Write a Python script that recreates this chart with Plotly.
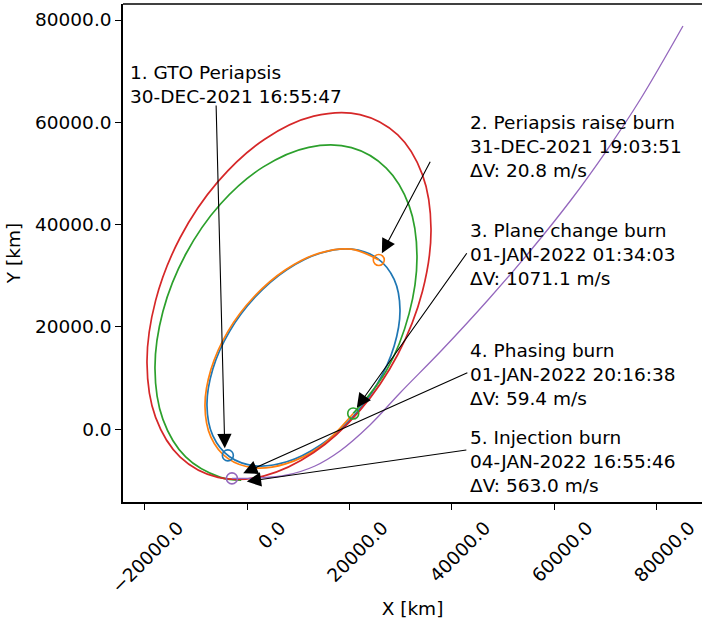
import plotly.graph_objects as go

# ---- data (km) ----
# 1. GTO (blue), full orbit
gto_x = [29840, 28700, 25420, 20410, 14250, 7710, 1550, -3460, -6740, -7880, -6740, -3460, 1550, 7710,
         14250, 20410, 25420, 28700, 29840]
gto_y = [23360, 16280, 8910, 2210, -3110, -6350, -7130, -5360, -1230, 4710, 11790, 19150, 25860, 31180,
         34420, 35200, 33420, 29300, 23360]

# 2. after periapsis raise (orange): burn 2 -> burn 3
raise_x = [25700, 20320, 14090, 7480, 1270, -3810, -7110, -8270, -7110, -3810, 1270, 7480, 14090, 20700]
raise_y = [33100, 35200, 34440, 31190, 25860, 19100, 11670, 4520, -1510, -5690, -7530, -6760, -3520, 3100]

# 3. after plane change (green): burn 3 -> burn 4
plane_x = [20700, 27160, 31620, 33160, 31620, 27160, 20360, 12000, 3130, -5240, -12040, -16490, -18040,
           -16490, -12040, -5240, -1190]
plane_y = [3100, 11430, 22610, 33830, 43720, 51070, 55060, 55120, 51290, 44040, 34220, 23040, 11830,
           1940, -5410, -9400, -9930]

# 4. after phasing burn (red), full orbit
phasing_x = [35900, 34220, 29410, 22020, 12980, 3320, -5730, -13110, -17920, -19600, -17920, -13110,
             -5730, 3320, 12980, 22020, 29410, 34220, 35900]
phasing_y = [39150, 26950, 14620, 3690, -4550, -9090, -9400, -5430, 2330, 12960, 25150, 37490,
             48410, 56660, 61200, 61510, 57540, 49780, 39150]

# 5. escape after injection (purple)
escape_x = [-3000, 2480, 7760, 13230, 18110, 23980, 29840, 38040, 47030, 55440, 63250, 70290, 76730, 85140]
escape_y = [-9600, -9520, -8930, -7170, -4240, 840, 7100, 15500, 25270, 35040, 44820, 54590, 64360, 78830]

burn_x = [-3800, 25700, 20700, -3000]
burn_y = [-5100, 33100, 3100, -9600]

labels = [
    "1. GTO Periapsis<br>30-DEC-2021 16:55:47",
    "2. Periapsis raise burn<br>31-DEC-2021 19:03:51<br>ΔV: 20.8 m/s",
    "3. Plane change burn<br>01-JAN-2022 01:34:03<br>ΔV: 1071.1 m/s",
    "4. Phasing burn<br>01-JAN-2022 20:16:38<br>ΔV: 59.4 m/s",
    "5. Injection burn<br>04-JAN-2022 16:55:46<br>ΔV: 563.0 m/s",
]
label_x = [-23300, 43100, 43100, 43100, 43100]
label_y = [72200, 62400, 41300, 17800, 800]
arrow_tip_x = [-4400, 26300, 21400, -800, -100]
arrow_tip_y = [-3700, 34400, 4200, -8600, -10200]
arrow_tail_x = [-6100, 35900, 43100, 43300, 43100]
arrow_tail_y = [63600, 52600, 34700, 11200, -4000]

x_ticks = [-20000, 0, 20000, 40000, 60000, 80000]
y_ticks = [0, 20000, 40000, 60000, 80000]

colors = ["#1f77b4", "#ff7f0e", "#2ca02c", "#d62728", "#9467bd"]
FONT = "DejaVu Sans"
FS = 18.5

fig = go.Figure()
series = [(gto_x, gto_y), (raise_x, raise_y), (plane_x, plane_y), (phasing_x, phasing_y)]
for (sx, sy), c in zip(series, colors):
    fig.add_trace(go.Scatter(x=sx, y=sy, mode="lines", line=dict(color=c, width=1.7, shape="spline", smoothing=1.0),
                             showlegend=False, hoverinfo="skip"))
fig.add_trace(go.Scatter(x=escape_x, y=escape_y, mode="lines",
                         line=dict(color=colors[4], width=1.3, shape="spline", smoothing=1.0),
                         showlegend=False, hoverinfo="skip"))
marker_colors = [colors[0], colors[1], colors[2], colors[4]]
for bx, by, c in zip(burn_x, burn_y, marker_colors):
    fig.add_trace(go.Scatter(x=[bx], y=[by], mode="markers",
                             marker=dict(symbol="circle-open", size=11, color=c, line=dict(width=1.6, color=c)),
                             showlegend=False))

for i in range(5):
    fig.add_annotation(x=arrow_tip_x[i], y=arrow_tip_y[i], ax=arrow_tail_x[i], ay=arrow_tail_y[i],
                       xref="x", yref="y", axref="x", ayref="y", text="", showarrow=True,
                       arrowhead=2, arrowsize=2.6, arrowwidth=1.1, arrowcolor="black")
    fig.add_annotation(x=label_x[i], y=label_y[i], xref="x", yref="y", text=labels[i], showarrow=False,
                       xanchor="left", yanchor="top", align="left",
                       font=dict(family=FONT, size=FS, color="black"))

fig.add_shape(type="line", xref="paper", yref="paper", x0=0, x1=1, y0=1, y1=1,
              line=dict(color="black", width=1.5))

fig.update_layout(
    width=702, height=619,
    margin=dict(l=123, r=0, t=4, b=117, autoexpand=False),
    paper_bgcolor="white", plot_bgcolor="white",
    font=dict(family=FONT, size=FS, color="black"),
    xaxis=dict(range=[-24290, 88860], tickvals=x_ticks, tickformat=".1f", tickangle=-45,
               ticks="outside", ticklen=6, tickwidth=1.2, tickcolor="black", automargin=False,
               showline=True, linecolor="black", linewidth=1.5, showgrid=False, zeroline=False,
               ticklabelshift=33,
               title=dict(text="X [km]", standoff=8, font=dict(family=FONT, size=FS))),
    yaxis=dict(range=[-14210, 83130], tickvals=y_ticks, tickformat=".1f",
               ticks="outside", ticklen=6, tickwidth=1.2, tickcolor="black", automargin=False,
               showline=True, linecolor="black", linewidth=1.5, showgrid=False, zeroline=False,
               title=dict(text="Y [km]", standoff=10, font=dict(family=FONT, size=FS))),
)

fig.write_html("out.html", config={"displayModeBar": False},
               post_script="document.body.style.margin='0';document.body.style.overflow='hidden';")
